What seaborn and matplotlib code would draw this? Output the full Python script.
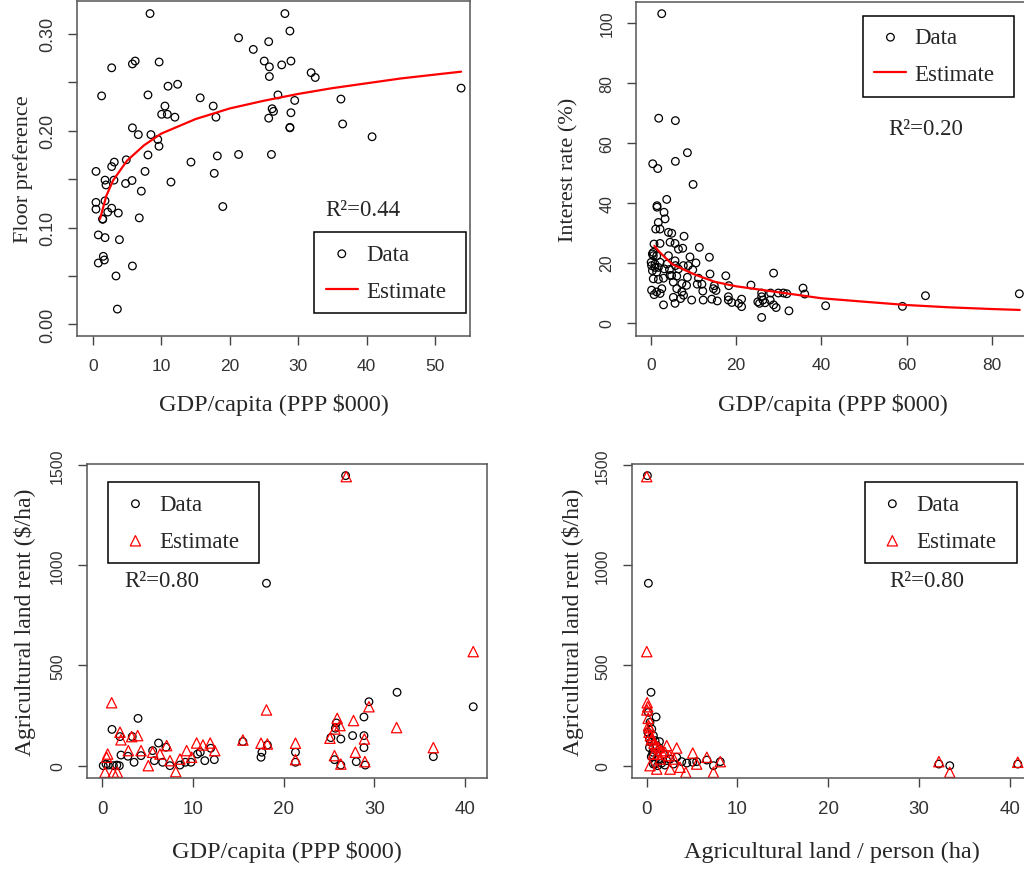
import matplotlib
matplotlib.use('Agg')
import matplotlib.pyplot as plt
import seaborn as sns

# ---- 패널 1: 층 선호도 vs GDP ----
floor_gdp = [8.37, 28.07, 28.8, 21.3, 25.7, 23.45, 25.05, 25.8, 27.6, 28.95, 25.8, 31.9, 32.5,
             5.8, 6.2, 9.7, 2.77, 1.3, 8.07, 11.0, 12.4, 15.7, 17.6, 18.0, 10.55, 10.07, 10.9,
             12.0, 5.8, 6.66, 8.5, 9.5, 9.68, 8.07, 4.9, 3.15, 2.77, 0.48, 1.8, 1.94, 3.1,
             4.8, 5.74, 7.64, 11.43, 7.1, 14.35, 18.2, 21.3, 26.1, 17.75, 19.0, 26.2, 26.4,
             25.7, 27.05, 29.5, 28.95, 28.8, 28.8, 36.25, 36.5, 40.8, 53.8, 0.48, 0.48, 1.8,
             2.77, 2.2, 3.74, 1.46, 1.46, 6.8, 0.82, 1.8, 3.9, 1.55, 1.7, 0.82, 5.8, 3.4, 3.6]
floor_pref = [0.321, 0.321, 0.303, 0.296, 0.292, 0.284, 0.272, 0.266, 0.268, 0.272, 0.256, 0.260,
              0.255, 0.269, 0.272, 0.271, 0.265, 0.236, 0.237, 0.246, 0.248, 0.234, 0.2255, 0.214,
              0.2255, 0.217, 0.217, 0.214, 0.203, 0.196, 0.196, 0.191, 0.184, 0.175, 0.170, 0.1676,
              0.163, 0.158, 0.149, 0.144, 0.149, 0.1455, 0.1486, 0.158, 0.147, 0.1376, 0.1676,
              0.174, 0.1755, 0.1755, 0.156, 0.1217, 0.2227, 0.220, 0.213, 0.237, 0.2313, 0.2186,
              0.203, 0.2035, 0.2327, 0.207, 0.1938, 0.244, 0.126, 0.119, 0.1276, 0.120, 0.116,
              0.115, 0.109, 0.1085, 0.110, 0.0924, 0.0896, 0.0875, 0.0703, 0.0665, 0.0634, 0.0603,
              0.050, 0.0158]
floor_est_gdp = [1.07, 2, 3, 5, 7.5, 10, 15, 20, 25, 30, 35, 40, 45, 50, 53.8]
floor_est = [0.109, 0.133, 0.149, 0.169, 0.185, 0.197, 0.212, 0.223, 0.231, 0.238, 0.244,
             0.249, 0.254, 0.258, 0.261]

# ---- 패널 2: 이자율 vs GDP ----
rate_gdp = [2.58, 1.87, 5.78, 8.6, 0.47, 1.64, 5.78, 9.93, 3.75, 1.48, 1.48, 3.12, 3.36, 1.78,
            1.17, 2.18, 4.14, 4.92, 7.81, 0.77, 2.18, 4.53, 5.7, 11.4, 6.5, 7.5, 0.38, 1.41,
            13.75, 9.2, 10.6, 7.65, 9.85, 13.9, 17.6, 28.8, 8.6, 11.2, 14.9, 18.3, 23.5, 35.7,
            36.1, 64.4, 86.4, 41.0, 59.0, 32.4, 26.0, 28.1, 29.9, 31.1, 31.9, 26.0,
            0.6, 0.1, 1.0, 2.2, 0.4, 1.4, 3.2, 4.4, 0.6, 1.8, 3.0, 4.5, 6.1, 0.2, 1.4, 2.6,
            6.1, 7.3, 0.8, 2.2, 5.3, 7.7, 4.15, 5.7, 5.8, 6.5, 7.3, 8.4, 10.9, 12.0, 12.2,
            14.7, 15.3, 9.6, 12.3, 14.3, 15.6, 3.0, 5.7, 7.0, 18.2, 18.2, 19.0, 20.6, 21.3,
            21.3, 25.1, 25.5, 26.3, 26.8, 28.0, 28.8, 29.4, 26.0, 0.6, 1.0, 1.8, 3.8, 4.9,
            5.3, 8.8, 0.2]
rate = [103.1, 68.2, 67.4, 56.7, 53.0, 51.4, 53.8, 46.1, 41.1, 39.0, 38.5, 36.8, 34.6, 33.4,
        31.2, 31.2, 30.1, 29.8, 28.8, 26.2, 26.4, 26.8, 26.4, 25.1, 24.5, 24.8, 22.9, 22.3,
        21.8, 21.9, 19.9, 19.0, 17.6, 16.2, 15.6, 16.5, 15.1, 14.8, 12.3, 12.3, 12.5, 11.5,
        9.5, 8.95, 9.6, 5.6, 5.4, 3.9, 1.7, 9.85, 9.85, 9.85, 9.6, 9.85,
        22.3, 20.1, 19.5, 20.1, 17.3, 16.8, 17.9, 17.7, 14.6, 14.4, 14.8, 15.7, 15.5, 10.8,
        10.2, 11.3, 11.3, 10.2, 9.3, 9.7, 8.4, 9.1, 22.3, 20.6, 19.0, 17.9, 13.0, 12.4, 12.8,
        12.8, 10.5, 11.3, 10.7, 7.5, 7.5, 7.8, 7.2, 5.9, 6.4, 8.0, 8.6, 7.5, 6.7, 6.4, 7.8,
        5.3, 6.9, 6.4, 7.5, 6.6, 7.5, 5.9, 5.0, 8.6, 23.4, 18.4, 18.4, 19.5, 15.7, 13.5,
        19.0, 19.0]
rate_est_gdp = [0.85, 2, 5, 10, 15, 20, 30, 40, 50, 60, 70, 80, 86.5]
rate_est = [25.6, 23.6, 19.5, 16.2, 13.6, 12.1, 10.1, 8.1, 6.95, 5.84, 5.07, 4.5, 4.2]

# ---- 패널 3: 농지 임대료 vs GDP ----
rent_gdp = [26.83, 18.1, 32.5, 40.9, 29.4, 28.85, 3.94, 1.07, 25.8, 25.7, 26.3, 27.6, 28.85,
            28.85, 25.2, 1.95, 3.3, 6.2, 15.5, 18.2, 17.6, 17.5, 21.3, 21.3, 36.5, 25.6, 26.3,
            28.0, 29.0, 2.06, 2.83, 3.5, 4.27, 5.55, 5.74, 6.65, 7.02, 7.46, 8.56, 9.15, 9.78,
            10.5, 10.8, 11.3, 11.95, 12.35, 0.1, 0.66, 1.22, 1.88, 0.41, 1.6]
rent = [1447, 910, 366, 294, 319, 243, 236, 181, 213, 187, 133, 150, 150, 90, 140, 145, 145,
        113, 120, 103, 67, 42, 67, 17, 45, 30, 3, 20, 3, 53, 47, 17, 50, 75, 25, 17, 92, 0, 3,
        17, 17, 58, 67, 25, 87, 30, 0, 3, 0, 0, 8, 3]
rent_est_gdp = [26.9, 40.9, 1.03, 18.1, 29.4, 32.45, 25.9, 26.2, 25.65, 27.7, 28.9, 25.1, 27.9,
                36.5, 21.3, 21.3, 15.5, 17.5, 18.2, 25.6, 26.3, 28.95, 1.95, 2.06, 3.9, 3.24,
                2.87, 4.27, 5.55, 6.36, 7.1, 0.59, 0.48, 5.07, 8.1, 7.46, 9.3, 10.4, 11.1, 11.9,
                12.4, 0.3, 1.22, 1.66, 8.56, 9.85]
rent_est = [1442, 569, 314, 278, 294, 190, 236, 200, 183, 225, 133, 137, 67, 90, 112, 30, 128,
            112, 108, 50, 8, 20, 167, 129, 150, 145, 75, 75, 67, 58, 100, 58, 42, 0, -30, 25,
            75, 113, 103, 113, 75, -33, -33, -33, 33, 42]

# ---- 패널 4: 농지 임대료 vs 1인당 농지 ----
land_pp = [0.07, 0.18, 0.47, 1.03, 0.18, 0.36, 0.55, 0.73, 0.29, 0.92, 1.1, 0.66, 1.47, 1.84,
           1.29, 0.92, 1.65, 2.2, 2.57, 3.3, 3.86, 2.94, 4.41, 5.5, 5.07, 6.62, 7.35, 8.1, 0.66,
           0.73, 0.12, 0.44, 32.2, 33.4, 40.9, 1.2, 2.0, 0.3, 0.5, 1.4]
land_rent = [1447, 910, 366, 243, 266, 216, 183, 150, 133, 125, 100, 67, 83, 58, 33, 8, 13, 25,
             33, 42, 20, 8, 13, 20, 17, 28, 0, 20, 53, 8, 167, 117, 8, 0, 8, 0, 3, 90, 45, 120]
land_est_pp = [0.0, 0.0, 0.05, 0.1, 0.02, 0.15, 0.2, 0.3, 0.4, 0.25, 0.6, 0.8, 1.0, 0.5, 1.3,
               1.6, 2.0, 1.2, 2.5, 3.0, 3.3, 5.07, 6.62, 8.1, 7.35, 4.3, 2.2, 32.2, 33.4, 40.9,
               2.57, 3.67, 5.5, 1.47, 0.73, 0.36, 1.1]
land_est = [1442, 569, 314, 294, 278, 236, 200, 190, 150, 167, 137, 112, 100, 129, 90, 75, 67,
            58, 50, 33, 88, 63, 42, 20, -33, -33, 100, 20, -33, 17, -17, -8, 8, 33, 58, 0, -17]

sns.set_style('white')
plt.rcParams['font.family'] = ['Liberation Serif', 'DejaVu Serif']

fig = plt.figure(figsize=(10.24, 8.7), dpi=100)
W, H = 1024, 870


def make_axes(left, top, right, bottom):
    return fig.add_axes([left / W, 1 - bottom / H, (right - left) / W, (bottom - top) / H])


def style_axes(ax, xticks, yticks, ylabels, xlabel, ylabel, xsize, ysize, labsize, xpad, ypad):
    ax.set_xticks(xticks)
    ax.set_yticks(yticks)
    ax.set_yticklabels(ylabels)
    ax.tick_params(direction='out', length=6.5, width=1, color='#444444', pad=9,
                   labelcolor='#333333', bottom=True, left=True)
    ax.tick_params(axis='x', labelsize=xsize)
    ax.tick_params(axis='y', labelsize=ysize)
    for lab in ax.get_xticklabels() + ax.get_yticklabels():
        lab.set_family(['Liberation Sans', 'DejaVu Sans'])
    plt.setp(ax.get_yticklabels(), rotation=90, va='center')
    for sp in ax.spines.values():
        sp.set_color('#555555')
        sp.set_linewidth(1.1)
    ax.set_xlabel(xlabel, fontsize=17.5, labelpad=xpad)
    ax.set_ylabel(ylabel, fontsize=labsize, labelpad=ypad)


def add_legend(ax, x0, y0, w):
    leg = ax.legend(loc='upper left', bbox_to_anchor=(x0, y0 - 0.2, w, 0.2), mode='expand',
                    borderaxespad=0, fontsize=16.5, frameon=True, fancybox=False,
                    edgecolor='black', framealpha=1, borderpad=0.5, labelspacing=0.7,
                    handlelength=1.4, handletextpad=0.35)
    leg.get_frame().set_linewidth(1.1)


circle_kw = dict(marker='o', s=30, facecolor='none', edgecolor='black', linewidth=0.9)
tri_kw = dict(marker='^', s=55, facecolor='none', edgecolor='red', linewidth=0.9)

# 패널 1
ax1 = make_axes(77.3, 2, 470, 337)
sns.scatterplot(x=floor_gdp, y=floor_pref, ax=ax1, label='Data', **circle_kw)
sns.lineplot(x=floor_est_gdp, y=floor_est, ax=ax1, color='red', linewidth=1.6, label='Estimate')
ax1.set_xlim(-2.25, 55.1)
ax1.set_ylim(-0.012, 0.334)
style_axes(ax1, [0, 10, 20, 30, 40, 50], [0.0, 0.05, 0.1, 0.15, 0.2, 0.25, 0.3],
           ['0.00', '', '0.10', '', '0.20', '', '0.30'], 'GDP/capita (PPP $000)', 'Floor preference',
           12.5, 13, 16, 15, 4)
add_legend(ax1, 0.6035, 0.3096, 0.3855)
ax1.text(0.726, 0.377, 'R²=0.44', transform=ax1.transAxes, fontsize=16.5, ha='center', va='center')

# 패널 2
ax2 = make_axes(636, 2.7, 1030, 336.7)
sns.scatterplot(x=rate_gdp, y=rate, ax=ax2, label='Data', **circle_kw)
sns.lineplot(x=rate_est_gdp, y=rate_est, ax=ax2, color='red', linewidth=1.6, label='Estimate')
ax2.set_xlim(-3.45, 88.9)
ax2.set_ylim(-4.4, 107.1)
style_axes(ax2, [0, 20, 40, 60, 80], [0, 20, 40, 60, 80, 100],
           ['0', '20', '40', '60', '80', '100'], 'GDP/capita (PPP $000)', 'Interest rate (%)',
           12.5, 11.5, 16, 15, 15)
add_legend(ax2, 0.576, 0.958, 0.383)
ax2.text(0.735, 0.621, 'R²=0.20', transform=ax2.transAxes, fontsize=16.5, ha='center', va='center')

# 패널 3
ax3 = make_axes(86.7, 465, 487.3, 779.3)
sns.scatterplot(x=rent_gdp, y=rent, ax=ax3, label='Data', **circle_kw)
sns.scatterplot(x=rent_est_gdp, y=rent_est, ax=ax3, label='Estimate', **tri_kw)
ax3.set_xlim(-1.72, 42.45)
ax3.set_ylim(-63, 1505)
style_axes(ax3, [0, 10, 20, 30, 40], [0, 500, 1000, 1500],
           ['0', '500', '1000', '1500'], 'GDP/capita (PPP $000)', 'Agricultural land rent ($/ha)',
           13.5, 11.5, 17, 17, 10)
add_legend(ax3, 0.053, 0.942, 0.3777)
ax3.text(0.188, 0.629, 'R²=0.80', transform=ax3.transAxes, fontsize=16.5, ha='center', va='center')

# 패널 4
ax4 = make_axes(631.7, 465, 1032.3, 779.3)
sns.scatterplot(x=land_pp, y=land_rent, ax=ax4, label='Data', **circle_kw)
sns.scatterplot(x=land_est_pp, y=land_est, ax=ax4, label='Estimate', **tri_kw)
ax4.set_xlim(-1.66, 42.5)
ax4.set_ylim(-63, 1505)
style_axes(ax4, [0, 10, 20, 30, 40], [0, 500, 1000, 1500],
           ['0', '500', '1000', '1500'], 'Agricultural land / person (ha)', 'Agricultural land rent ($/ha)',
           13.5, 11.5, 17, 17, 8)
add_legend(ax4, 0.582, 0.942, 0.3787)
ax4.text(0.736, 0.629, 'R²=0.80', transform=ax4.transAxes, fontsize=16.5, ha='center', va='center')

fig.savefig('out.png', dpi=100)
